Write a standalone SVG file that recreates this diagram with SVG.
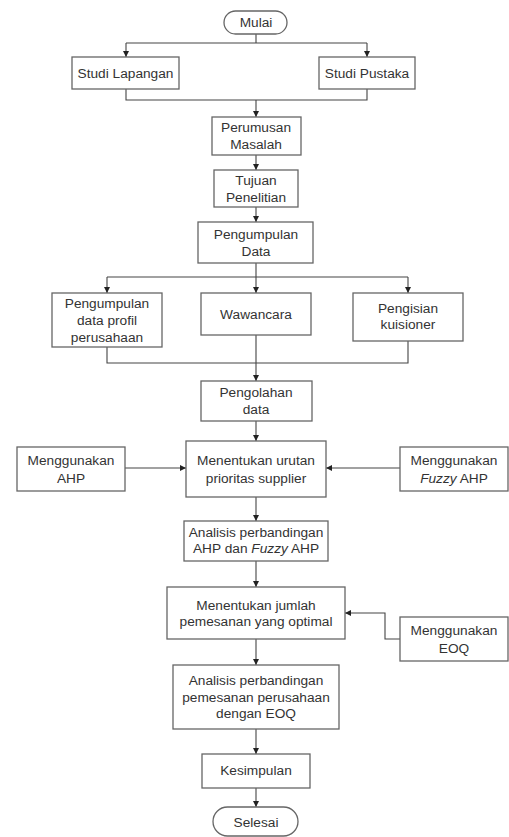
<svg xmlns="http://www.w3.org/2000/svg" width="509" height="837" viewBox="0 0 509 837">
<defs>
<marker id="arr" markerWidth="6" markerHeight="6" refX="6" refY="3" orient="auto" markerUnits="userSpaceOnUse">
<path d="M0,0 L6,3 L0,6 Z" fill="#222"/>
</marker>
<style>
.box{fill:#fff;stroke:#666;stroke-width:1.3}
.t{font-family:"Liberation Sans",Arial,sans-serif;font-size:13.7px;fill:#333;text-anchor:middle}
.c{fill:none;stroke:#444;stroke-width:1.1}
.a{marker-end:url(#arr)}
</style>
</defs>
<rect width="509" height="837" fill="#fff"/>
<g id="connectors">
<path class="c" d="M256,34 V43 M126,43 H367"/>
<path class="c a" d="M126,43 V57"/>
<path class="c a" d="M367,43 V57"/>
<path class="c" d="M126,89 V100 H367 V89"/>
<path class="c a" d="M256,100 V117"/>
<path class="c a" d="M256,155 V170"/>
<path class="c a" d="M256,207 V222"/>
<path class="c" d="M256,263 V277 M107,277 H408"/>
<path class="c a" d="M107,277 V293"/>
<path class="c a" d="M256,277 V293"/>
<path class="c a" d="M408,277 V293"/>
<path class="c" d="M107,347 V363 H408 V341 M256,335 V363"/>
<path class="c a" d="M256,363 V381"/>
<path class="c a" d="M256,421 V441"/>
<path class="c a" d="M125,468 H186"/>
<path class="c a" d="M400,468 H326"/>
<path class="c a" d="M256,497 V521"/>
<path class="c a" d="M256,561 V587"/>
<path class="c a" d="M400,639 H385 V613 H345"/>
<path class="c a" d="M256,639 V665"/>
<path class="c a" d="M256,729 V754"/>
<path class="c a" d="M256,788 V807"/>
</g>
<g id="mulai"><rect class="box" x="224" y="11" width="63" height="23" rx="11.5"/><text class="t" x="256" y="27">Mulai</text></g>
<g id="studi-lapangan"><rect class="box" x="72" y="57" width="107" height="32"/><text class="t" x="125.5" y="78">Studi Lapangan</text></g>
<g id="studi-pustaka"><rect class="box" x="319" y="57" width="96" height="32"/><text class="t" x="367" y="78">Studi Pustaka</text></g>
<g id="perumusan"><rect class="box" x="212" y="117" width="89" height="38"/><text class="t" x="256" y="132">Perumusan</text><text class="t" x="256" y="149">Masalah</text></g>
<g id="tujuan"><rect class="box" x="214" y="170" width="84" height="37"/><text class="t" x="256" y="184.5">Tujuan</text><text class="t" x="256" y="201.5">Penelitian</text></g>
<g id="pengumpulan-data"><rect class="box" x="198" y="222" width="115" height="41"/><text class="t" x="256" y="238.5">Pengumpulan</text><text class="t" x="256" y="255.5">Data</text></g>
<g id="profil"><rect class="box" x="52" y="293" width="110" height="54"/><text class="t" x="107" y="307.5">Pengumpulan</text><text class="t" x="107" y="324.5">data profil</text><text class="t" x="107" y="341.5">perusahaan</text></g>
<g id="wawancara"><rect class="box" x="201" y="293" width="110" height="42"/><text class="t" x="256" y="318.5">Wawancara</text></g>
<g id="kuisioner"><rect class="box" x="353" y="293" width="110" height="48"/><text class="t" x="408" y="312.5">Pengisian</text><text class="t" x="408" y="328.5">kuisioner</text></g>
<g id="pengolahan"><rect class="box" x="201" y="381" width="111" height="40"/><text class="t" x="256" y="396.5">Pengolahan</text><text class="t" x="256" y="413.5">data</text></g>
<g id="urutan"><rect class="box" x="186" y="441" width="140" height="56"/><text class="t" x="256" y="464.5">Menentukan urutan</text><text class="t" x="256" y="482.5">prioritas supplier</text></g>
<g id="ahp"><rect class="box" x="17" y="447" width="108" height="44"/><text class="t" x="71" y="464.5">Menggunakan</text><text class="t" x="71" y="482.5">AHP</text></g>
<g id="fuzzy-ahp"><rect class="box" x="400" y="447" width="108" height="44"/><text class="t" x="454" y="464.5">Menggunakan</text><text class="t" x="454" y="482.5"><tspan font-style="italic">Fuzzy</tspan> AHP</text></g>
<g id="analisis-ahp"><rect class="box" x="184" y="521" width="144" height="40"/><text class="t" x="256" y="536.5">Analisis perbandingan</text><text class="t" x="256" y="552.5">AHP dan <tspan font-style="italic">Fuzzy</tspan> AHP</text></g>
<g id="jumlah"><rect class="box" x="167" y="587" width="178" height="52"/><text class="t" x="256" y="609.5">Menentukan jumlah</text><text class="t" x="256" y="625.5">pemesanan yang optimal</text></g>
<g id="eoq"><rect class="box" x="400" y="617" width="108" height="44"/><text class="t" x="454" y="634.5">Menggunakan</text><text class="t" x="454" y="652.5">EOQ</text></g>
<g id="analisis-eoq"><rect class="box" x="173" y="665" width="166" height="64"/><text class="t" x="256" y="684.5">Analisis perbandingan</text><text class="t" x="256" y="701.5">pemesanan perusahaan</text><text class="t" x="256" y="717.5">dengan EOQ</text></g>
<g id="kesimpulan"><rect class="box" x="202" y="754" width="108" height="34"/><text class="t" x="256" y="774.5">Kesimpulan</text></g>
<g id="selesai"><rect class="box" x="213" y="807" width="85" height="29" rx="14.5"/><text class="t" x="256" y="826.5">Selesai</text></g>
</svg>
